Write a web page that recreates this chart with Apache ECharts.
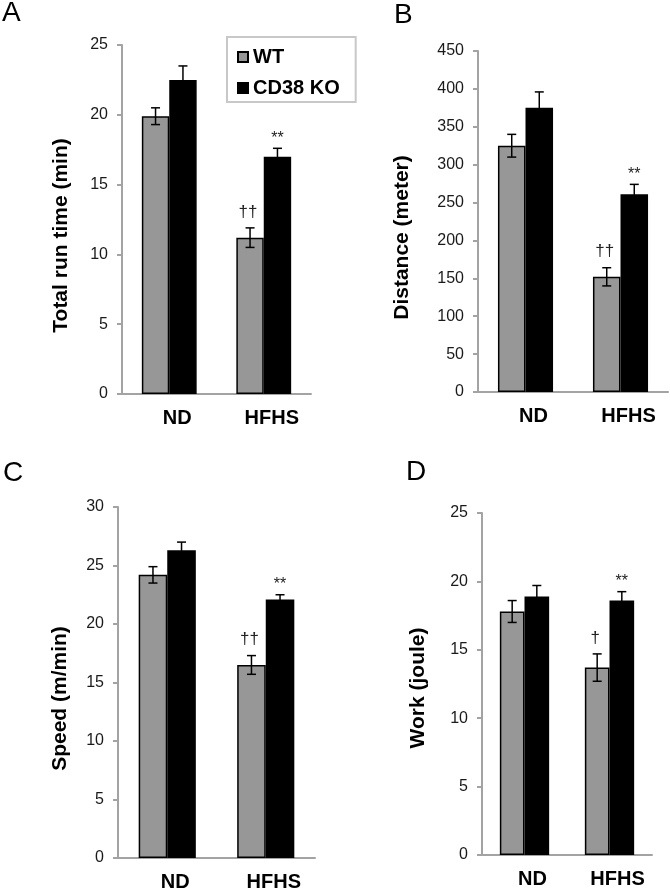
<!DOCTYPE html>
<html>
<head>
<meta charset="utf-8">
<script src="https://cdn.jsdelivr.net/npm/echarts@6/dist/echarts.min.js"></script>
<style>
html,body{margin:0;padding:0;background:#fff;}
#chart{width:670px;height:893px;}
</style>
</head>
<body>
<div id="chart"></div>
<script>
// ---- data ----
const categories = ['ND', 'HFHS'];
const groupNames = ['WT', 'CD38 KO'];

const runTimeWT = [19.9, 11.2];
const runTimeWTErr = [0.6, 0.7];
const runTimeKO = [22.5, 17.0];
const runTimeKOErr = [1.0, 0.6];
const runTimeWTMarks = ['', '††'];
const runTimeKOMarks = ['', '**'];

const distanceWT = [325, 152];
const distanceWTErr = [15, 12];
const distanceKO = [375, 261];
const distanceKOErr = [21, 13];
const distanceWTMarks = ['', '††'];
const distanceKOMarks = ['', '**'];

const speedWT = [24.2, 16.5];
const speedWTErr = [0.7, 0.8];
const speedKO = [26.3, 22.1];
const speedKOErr = [0.7, 0.4];
const speedWTMarks = ['', '††'];
const speedKOMarks = ['', '**'];

const workWT = [17.8, 13.7];
const workWTErr = [0.8, 1.0];
const workKO = [18.9, 18.6];
const workKOErr = [0.8, 0.65];
const workWTMarks = ['', '†'];
const workKOMarks = ['', '**'];

const yTitles = ['Total run time (min)', 'Distance (meter)', 'Speed (m/min)', 'Work (joule)'];
const yMax = [25, 450, 30, 25];
const yInterval = [5, 50, 5, 5];
const panelLetters = ['A', 'B', 'C', 'D'];

// ---- styling / layout ----
const FONT = '"Liberation Sans", Arial, Helvetica, sans-serif';
const GREY = '#979797';
const AXIS = '#a3a3a3';

const panels = [
  {wt: runTimeWT, wtErr: runTimeWTErr, ko: runTimeKO, koErr: runTimeKOErr, wtMarks: runTimeWTMarks, koMarks: runTimeKOMarks},
  {wt: distanceWT, wtErr: distanceWTErr, ko: distanceKO, koErr: distanceKOErr, wtMarks: distanceWTMarks, koMarks: distanceKOMarks},
  {wt: speedWT, wtErr: speedWTErr, ko: speedKO, koErr: speedKOErr, wtMarks: speedWTMarks, koMarks: speedKOMarks},
  {wt: workWT, wtErr: workWTErr, ko: workKO, koErr: workKOErr, wtMarks: workWTMarks, koMarks: workKOMarks}
];

const grids = [
  {left: 122, top: 45, width: 189, height: 349},
  {left: 478, top: 51, width: 190, height: 341},
  {left: 118, top: 507, width: 197, height: 351},
  {left: 482, top: 513, width: 170, height: 342}
];
const nameGaps = [50, 65, 47, 53];
const namePadShift = [32, 32, 32, 8];
const letterPos = [[2, 13], [394, 15], [3, 473], [406, 472]];

const BAR_FRAC = 0.29; // each bar's share of category width (barCategoryGap 42%)

function makeErrRender(values, errs, marks, sign) {
  return function (params, api) {
    const i = api.value(0);
    const v = values[i], e = errs[i];
    const catW = api.size([1, 0])[0];
    const off = sign * catW * BAR_FRAC / 2;
    const top = api.coord([i, v + e]);
    const bot = api.coord([i, v - e]);
    const cx = top[0] + off;
    const cap = 4.5;
    const st = {stroke: '#000', lineWidth: 1.5};
    const children = [
      {type: 'line', shape: {x1: cx, y1: top[1], x2: cx, y2: bot[1]}, style: st},
      {type: 'line', shape: {x1: cx - cap, y1: top[1], x2: cx + cap, y2: top[1]}, style: st},
      {type: 'line', shape: {x1: cx - cap, y1: bot[1], x2: cx + cap, y2: bot[1]}, style: st}
    ];
    const m = marks[i];
    if (m) {
      const isDagger = m.indexOf('†') >= 0;
      children.push({
        type: 'text',
        style: {
          text: m, x: cx - (isDagger ? 2 : 0), y: top[1] - (isDagger ? 16 : 10),
          align: 'center', verticalAlign: 'middle',
          font: (isDagger ? '17px ' : '16px ') + FONT, fill: '#222'
        }
      });
    }
    return {type: 'group', children: children};
  };
}

const option = {
  animation: false,
  backgroundColor: '#fff',
  legend: {
    data: groupNames,
    orient: 'vertical',
    left: 227, top: 37,
    padding: [9, 16, 3, 10],
    itemGap: 9,
    itemWidth: 10, itemHeight: 10,
    icon: 'rect',
    borderColor: '#c8c8c8', borderWidth: 2,
    textStyle: {fontFamily: FONT, fontSize: 20, fontWeight: 'bold', color: '#000', lineHeight: 22}
  },
  graphic: panelLetters.map((t, k) => ({
    type: 'text', left: letterPos[k][0], top: letterPos[k][1] - 14,
    style: {text: t, font: '28px ' + FONT, fill: '#000'}
  })),
  grid: grids,
  xAxis: grids.map((g, k) => ({
    type: 'category', gridIndex: k, data: categories,
    axisLine: {show: true, lineStyle: {color: AXIS, width: 2}},
    axisTick: {show: false},
    axisLabel: {fontFamily: FONT, fontSize: 20, fontWeight: 'bold', color: '#000', margin: 14, padding: [0, 0, 0, 16]}
  })),
  yAxis: grids.map((g, k) => ({
    type: 'value', gridIndex: k, min: 0, max: yMax[k], interval: yInterval[k],
    name: yTitles[k], nameLocation: 'middle', nameRotate: 90, nameGap: nameGaps[k],
    nameTextStyle: {fontFamily: FONT, fontSize: 21, fontWeight: 'bold', color: '#000', padding: [0, namePadShift[k], 0, 0]},
    axisLine: {show: true, lineStyle: {color: AXIS, width: 2}},
    axisTick: {show: true, length: 5, lineStyle: {color: AXIS, width: 2}},
    splitLine: {show: false},
    axisLabel: {fontFamily: FONT, fontSize: 16, color: '#1a1a1a', margin: 14}
  })),
  series: []
};

panels.forEach((p, k) => {
  option.series.push({
    type: 'bar', name: groupNames[0], xAxisIndex: k, yAxisIndex: k, data: p.wt,
    barGap: '0%', barCategoryGap: '42%',
    itemStyle: {color: GREY, borderColor: '#000', borderWidth: 1.5}
  });
  option.series.push({
    type: 'bar', name: groupNames[1], xAxisIndex: k, yAxisIndex: k, data: p.ko,
    barGap: '0%', barCategoryGap: '42%',
    itemStyle: {color: '#000', borderColor: '#000', borderWidth: 1.5}
  });
  option.series.push({
    type: 'custom', name: 'err-wt-' + k, xAxisIndex: k, yAxisIndex: k, z: 5,
    data: categories.map((c, i) => [i, p.wt[i]]),
    renderItem: makeErrRender(p.wt, p.wtErr, p.wtMarks, -1)
  });
  option.series.push({
    type: 'custom', name: 'err-ko-' + k, xAxisIndex: k, yAxisIndex: k, z: 5,
    data: categories.map((c, i) => [i, p.ko[i]]),
    renderItem: makeErrRender(p.ko, p.koErr, p.koMarks, 1)
  });
});

const chart = echarts.init(document.getElementById('chart'), null, {renderer: 'canvas'});
chart.setOption(option);
</script>
</body>
</html>
